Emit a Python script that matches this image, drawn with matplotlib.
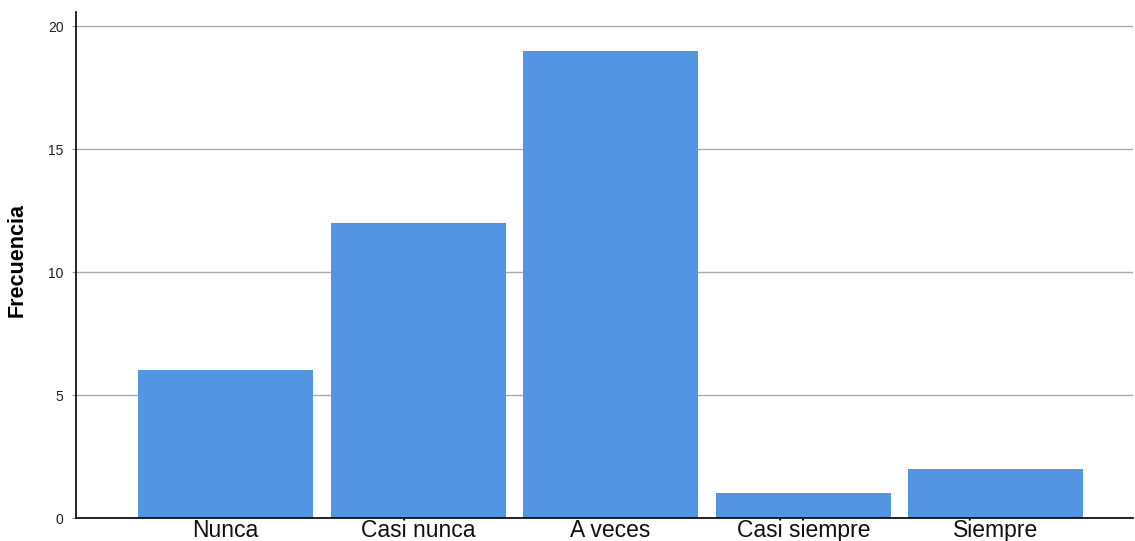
import matplotlib
matplotlib.use("Agg")
import matplotlib.pyplot as plt

categories = ["Nunca", "Casi nunca", "A veces", "Casi siempre", "Siempre"]
frecuencia = [6, 12, 19, 1, 2]
y_ticks = [0, 5, 10, 15, 20]

plt.rcParams["font.family"] = ["Liberation Sans", "DejaVu Sans"]

fig = plt.figure(figsize=(11.35, 5.41), dpi=100)
ax = fig.add_axes([76 / 1135, (541 - 518) / 541, (1133 - 76) / 1135, (518 - 12) / 541])

x = list(range(len(categories)))
ax.bar(x, frecuencia, width=0.908, color="#5495e3", zorder=3)

ax.set_xlim(-0.776, 4.712)
ax.set_ylim(0, 20.57)
ax.set_yticks(y_ticks)
ax.set_yticklabels([str(t) for t in y_ticks], fontsize=10, color="#222222")
ax.set_xticks(x)
ax.set_xticklabels(categories, fontsize=16.5, color="#111111")
ax.tick_params(axis="x", length=0, pad=1)
ax.tick_params(axis="y", length=3, color="#999999", pad=6)

ax.grid(axis="y", color="#aaaaaa", linewidth=1, zorder=0)
for s in ["top", "right"]:
    ax.spines[s].set_visible(False)
ax.spines["left"].set_color("black")
ax.spines["bottom"].set_color("black")
ax.spines["left"].set_linewidth(1.2)
ax.spines["bottom"].set_linewidth(1.2)
ax.spines["bottom"].set_zorder(4)

ax.set_ylabel("Frecuencia", fontsize=15.5, fontweight="bold")
ax.yaxis.set_label_coords((28 - 76) / 1057, (518 - 260) / 506)

fig.savefig("out.png", dpi=100)
plt.close(fig)
